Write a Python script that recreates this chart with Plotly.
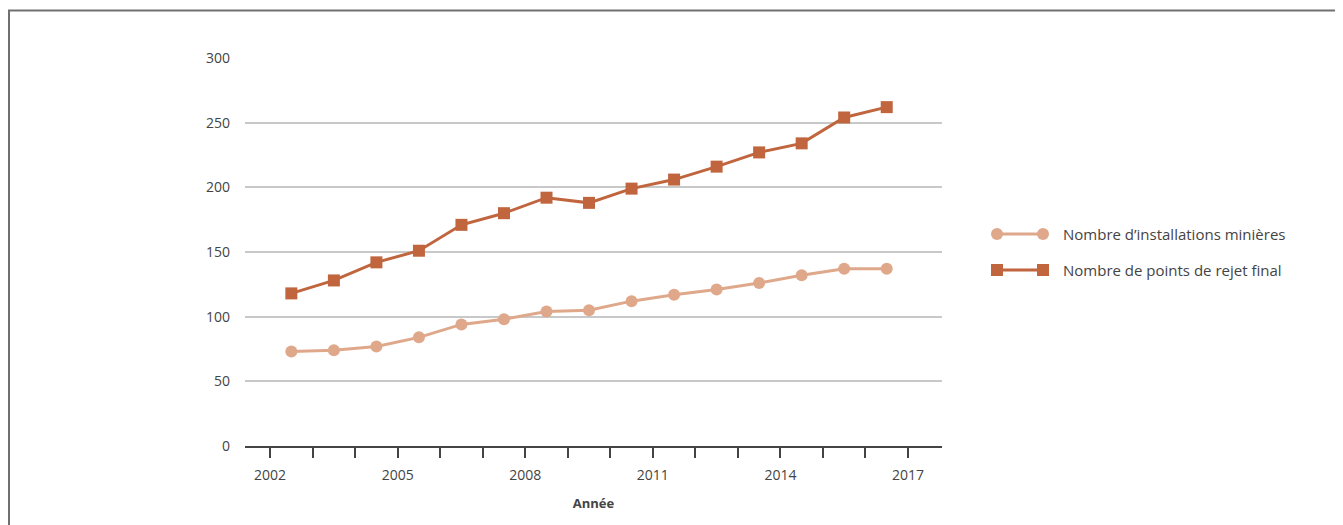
import plotly.graph_objects as go

years = list(range(2002, 2017))
installations = [73, 74, 77, 84, 94, 98, 104, 105, 112, 117, 121, 126, 132, 137, 137]
points_rejet = [118, 128, 142, 151, 171, 180, 192, 188, 199, 206, 216, 227, 234, 254, 262]
tick_years = [2002, 2005, 2008, 2011, 2014, 2017]
y_ticks = [0, 50, 100, 150, 200, 250, 300]

name_inst = "Nombre d’installations minières"
name_rejet = "Nombre de points de rejet final"
c_inst = "#DFA88A"
c_rejet = "#C0653D"
font_family = "'Open Sans', sans-serif"
txt = "#444444"

x_mid = [y + 0.5 for y in years]

fig = go.Figure()
fig.add_trace(go.Scatter(x=x_mid, y=installations, name=name_inst, mode="lines+markers",
                         line=dict(color=c_inst, width=3),
                         marker=dict(symbol="circle", size=12, color=c_inst),
                         showlegend=False))
fig.add_trace(go.Scatter(x=x_mid, y=points_rejet, name=name_rejet, mode="lines+markers",
                         line=dict(color=c_rejet, width=3),
                         marker=dict(symbol="square", size=12, color=c_rejet),
                         showlegend=False))

OFF = 8  # page offset of the figure on screen
W, H = 1343, 525
L, T = 245 - OFF, 58 - OFF
R = W - (942 - OFF)
B = H - (446 - OFF)
pw, ph = W - L - R, H - T - B

def px(xs):
    return (xs - OFF - L) / pw

def py(ys):
    return (H - B - (ys - OFF)) / ph

shapes = []
# frame (top and left border)
shapes.append(dict(type="line", xref="paper", yref="paper", x0=px(9), x1=px(9),
                   y0=py(540), y1=py(10.5), line=dict(color="#707070", width=2)))
shapes.append(dict(type="line", xref="paper", yref="paper", x0=px(8), x1=px(1360),
                   y0=py(10.5), y1=py(10.5), line=dict(color="#707070", width=2)))

# custom legend
leg = [(name_inst, c_inst, "circle", 234), (name_rejet, c_rejet, "square", 270)]
annotations = []
for name, col, sym, yy in leg:
    shapes.append(dict(type="line", xref="paper", yref="paper", x0=px(997), x1=px(1043),
                       y0=py(yy), y1=py(yy), line=dict(color=col, width=3)))
    for cx in (997, 1043):
        r = 6
        shapes.append(dict(type="circle" if sym == "circle" else "rect", xref="paper", yref="paper",
                           x0=px(cx - r), x1=px(cx + r), y0=py(yy + r), y1=py(yy - r),
                           fillcolor=col, line=dict(color=col, width=0)))
    annotations.append(dict(text=name, xref="paper", yref="paper", x=px(1061), y=py(yy),
                            xanchor="left", yanchor="middle", showarrow=False,
                            font=dict(family=font_family, size=15, color=txt)))

fig.update_layout(
    width=W, height=H,
    margin=dict(l=L, r=R, t=T, b=B, autoexpand=False),
    paper_bgcolor="white", plot_bgcolor="white",
    font=dict(family=font_family, size=14, color=txt),
    shapes=shapes, annotations=annotations,
    showlegend=False,
)
fig.update_xaxes(
    range=[2001.41, 2017.8],
    tickmode="array", tickvals=tick_years, ticktext=[str(t) for t in tick_years],
    ticks="outside", ticklen=10, tickwidth=1.5, tickcolor="#444444",
    minor=dict(tickmode="linear", tick0=2002, dtick=1, ticks="outside", ticklen=10,
               tickwidth=1.5, tickcolor="#444444", showgrid=False),
    showline=True, linecolor="#444444", linewidth=1.5,
    showgrid=False, zeroline=False,
    ticklabelstandoff=5,
    tickfont=dict(size=14, color=txt),
    title=dict(text="<b>Année</b>", font=dict(size=13, color=txt), standoff=16),
)
fig.update_yaxes(
    range=[0, 300], tickmode="array", tickvals=y_ticks,
    showgrid=True, gridcolor="#C8C8C8", gridwidth=1.5,
    zeroline=False, showline=False, ticks="",
    ticklabelstandoff=14,
    tickfont=dict(size=14, color=txt),
)

fig.write_html("out.html")
